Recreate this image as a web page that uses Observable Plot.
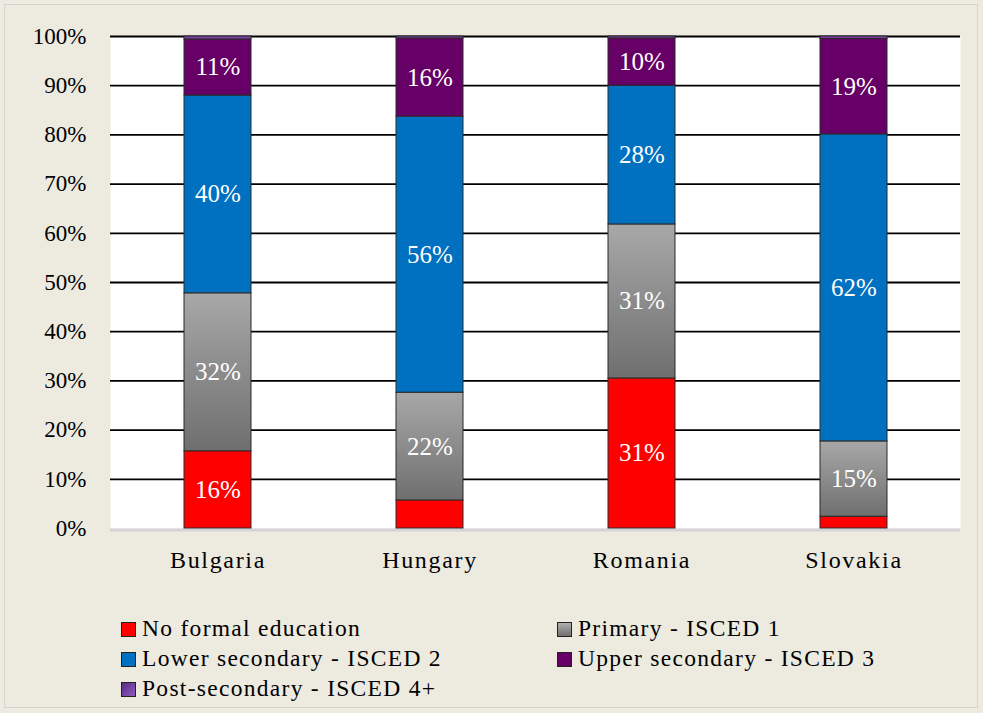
<!DOCTYPE html>
<html><head><meta charset="utf-8">
<script src="https://cdn.jsdelivr.net/npm/d3@7"></script>
<script src="https://cdn.jsdelivr.net/npm/@observablehq/plot@0.6"></script>
<style>
body{margin:0;background:#EDEAE0;}
#wrap{position:relative;width:983px;height:713px;background:#EDEAE0;overflow:hidden;font-family:"Liberation Serif","Times New Roman",serif;}
#frame{position:absolute;left:4px;top:4px;width:974px;height:704px;border:1px solid #d4d4d4;box-sizing:border-box;}
#chart{position:absolute;left:0;top:0;}
#chart g[aria-label="x-axis tick label"] text{letter-spacing:0.07em;}
.leg{position:absolute;font-size:23.5px;letter-spacing:0.055em;color:#000;white-space:nowrap;line-height:30px;}
.sw{display:inline-block;width:13px;height:13px;border:1px solid #222;margin-right:6px;vertical-align:-1px;}
</style></head><body>
<div id="wrap"><div id="frame"></div><div id="chart"></div></div>
<script>
const countries = ["Bulgaria", "Hungary", "Romania", "Slovakia"];
const levels = ["No formal education", "Primary - ISCED 1", "Lower secondary - ISCED 2", "Upper secondary - ISCED 3", "Post-secondary - ISCED 4+"];
const noFormal = [15.7, 5.7, 30.5, 2.4];
const primary  = [32.1, 21.9, 31.3, 15.3];
const lowerSec = [40.2, 56.1, 28.2, 62.4];
const upperSec = [11.4, 15.9, 9.6, 19.4];
const postSec  = [0.6, 0.4, 0.4, 0.5];
const yTicks = [0, 10, 20, 30, 40, 50, 60, 70, 80, 90, 100];
const fills = ["#FF0000", "url(#gGray)", "#0070C0", "#660066", "#7a3fa6"];
const legendSwatch = ["#FF0000", "linear-gradient(#b0b0b0,#6f6f6f)", "#0070C0", "#660066", "linear-gradient(135deg,#5a2a86,#8e5cc0)"];

const series = [noFormal, primary, lowerSec, upperSec, postSec];
const data = [];
countries.forEach((c, i) => series.forEach((s, j) => data.push({country: c, level: levels[j], value: s[i]})));

const svg = Plot.plot({
  width: 983, height: 600,
  marginLeft: 110, marginRight: 23, marginTop: 36, marginBottom: 72,
  style: {fontFamily: '"Liberation Serif","Times New Roman",serif', fontSize: "23px", color: "#000", background: "transparent"},
  x: {domain: countries, paddingInner: 0.685, paddingOuter: 0.3425, label: null},
  y: {domain: [0, 100], label: null},
  color: {type: "ordinal", domain: levels, range: fills},
  marks: [
    Plot.frame({fill: "white", stroke: null}),
    Plot.ruleY([0], {stroke: "#d4d4d4", strokeWidth: 3, dy: 1.5}),
    Plot.ruleY(yTicks.filter(d => d > 0), {stroke: "#000", strokeWidth: 1.8}),
    Plot.barY(data, Plot.stackY({x: "country", y: "value", fill: "level", stroke: "#2a2a2a", strokeWidth: 1, inset: 0})),
    Plot.text(data, Plot.stackY({x: "country", y: "value", text: d => d.value >= 8 ? Math.round(d.value) + "%" : "", fill: "white", fontSize: 25})),
    Plot.axisY(yTicks, {tickSize: 0, tickPadding: 24, tickFormat: d => d + "%", fontSize: 23}),
    Plot.axisX({tickSize: 0, tickPadding: 22, fontSize: 24})
  ]
});
d3.select(svg).insert("defs", ":first-child").html(
  '<linearGradient id="gGray" x1="0" y1="0" x2="0" y2="1"><stop offset="0" stop-color="#a8a8a8"/><stop offset="1" stop-color="#6f6f6f"/></linearGradient>');
document.getElementById("chart").appendChild(svg);

const wrap = document.getElementById("wrap");
const legPos = [[121, 613], [557, 613], [121, 643], [557, 643], [121, 673]];
levels.forEach((l, i) => {
  const d = document.createElement("div");
  d.className = "leg";
  d.style.left = legPos[i][0] + "px";
  d.style.top = legPos[i][1] + "px";
  d.innerHTML = `<span class="sw" style="background:${legendSwatch[i]}"></span>${l}`;
  wrap.appendChild(d);
});
</script>
</body></html>
